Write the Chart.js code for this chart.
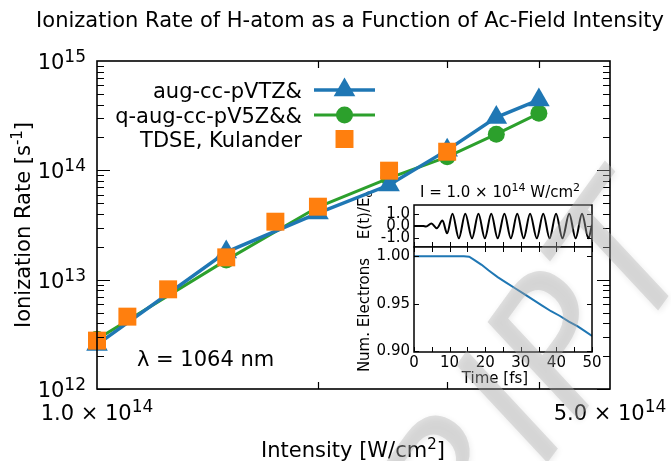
<!DOCTYPE html>
<html>
<head>
<meta charset="utf-8">
<script src="https://cdn.jsdelivr.net/npm/chart.js@4.4.1/dist/chart.umd.min.js"></script>
<style>
  html, body { margin: 0; padding: 0; background: #fff; }
  #wrap { position: relative; width: 671px; height: 461px; overflow: hidden; }
  #wrap canvas { position: absolute; }
</style>
</head>
<body>
<div id="wrap">
  <canvas id="fieldChart" width="265" height="210" style="left:340px;top:180px"></canvas>
  <canvas id="electronChart" width="265" height="210" style="left:340px;top:180px"></canvas>
  <canvas id="rateChart" width="671" height="461" style="left:0;top:0"></canvas>
</div>
<script>
// ionization rates vs. intensity (W/cm^2, s^-1)
const intensity = [1.0e14, 1.5e14, 2.0e14, 2.5e14, 3.0e14, 3.5e14, 4.0e14];
const rateVTZ = [2.55e12, 1.79e13, 4.07e13, 7.34e13, 1.53e14, 3.05e14, 4.40e14];
const rateV5Z = [2.85e12, 1.51e13, 4.62e13, 8.50e13, 1.33e14, 2.14e14, 3.32e14];
const kulanderIntensity = [1.0e14, 1.1e14, 1.25e14, 1.5e14, 1.75e14, 2.0e14, 2.5e14, 3.0e14];
const kulanderRate = [2.77e12, 4.59e12, 8.16e12, 1.60e13, 3.39e13, 4.65e13, 9.93e13, 1.48e14];

const yDecades = [12, 13, 14, 15];
const xTickLabels = [1.0e14, 5.0e14];
const xMinorTicks = [2e14, 3e14, 4e14];

// inset: field turn-on (extrema) and electron count, I = 1e14 W/cm^2
const fieldTime = [0, 2.6, 3.4, 4.9, 6.4, 8.0, 9.3, 10.8, 12.6, 14.4, 16.3, 18.1, 19.9, 21.7, 23.5, 25.4,
  27.2, 29.0, 30.8, 32.6, 34.5, 36.3, 38.1, 39.9, 41.7, 43.6, 45.4, 47.2, 49.0, 50];
const fieldValue = [0, 0, -0.05, 0.2, -0.18, 0.45, -0.6, 1.0, -1.0, 1.0, -1.0, 1.0, -1.0, 1.0, -1.0, 1.0,
  -1.0, 1.0, -1.0, 1.0, -1.0, 1.0, -1.0, 1.0, -1.0, 1.0, -1.0, 1.0, -1.0, 0.1];
const electronTime = [0, 14, 15.5, 17, 19, 21, 23.5, 26, 28.5, 31, 33.5, 36, 38.5, 41, 43.5, 46, 48, 50];
const electronCount = [1.000, 1.000, 0.9995, 0.996, 0.991, 0.985, 0.978, 0.972, 0.966, 0.960, 0.954,
  0.948, 0.942, 0.937, 0.931, 0.926, 0.921, 0.916];

const timeTicks = [0, 5, 10, 15, 20, 25, 30, 35, 40, 45, 50];
const timeLabels = [0, 10, 20, 30, 40, 50];
const fieldTicks = [1.0, 0.0, -1.0];
const fieldTickText = ['1.0', '0.0', '-1.0'];
const electronTicks = [1.00, 0.95, 0.90];
const electronTickText = ['1.00', '0.95', '0.90'];

const FONT = '"DejaVu Sans", sans-serif';
const BLUE = '#1f77b4', GREEN = '#2ca02c', ORANGE = '#ff7f0e';

const pts = (xs, ys) => xs.map((x, i) => ({x: x, y: ys[i]}));

// text with super/subscripts: parts = [text, size, rise]
function rich(ctx, parts, x, y, align) {
  let w = 0;
  parts.forEach(p => { ctx.font = p[1] + 'px ' + FONT; w += ctx.measureText(p[0]).width; });
  let cx = align === 'center' ? x - w / 2 : align === 'right' ? x - w : x;
  ctx.textAlign = 'left';
  parts.forEach(p => {
    ctx.font = p[1] + 'px ' + FONT;
    ctx.fillText(p[0], cx, y - (p[2] || 0));
    cx += ctx.measureText(p[0]).width;
  });
}

// slanted grey stamp across the lower right
function drawStamp(ctx) {
  ctx.save();
  ctx.translate(330, 762);
  ctx.rotate(-54 * Math.PI / 180);
  ctx.font = 'italic 180px ' + FONT;
  ctx.textAlign = 'left';
  ctx.textBaseline = 'alphabetic';
  ctx.shadowColor = 'rgba(0,0,0,0.22)';
  ctx.shadowBlur = 6;
  ctx.shadowOffsetX = 1;
  ctx.shadowOffsetY = 2;
  ctx.fillStyle = 'rgba(175,175,175,0.38)';
  ctx.fillText('SCRIPT', 0, 0);
  ctx.restore();
}

const rateFrame = {
  id: 'rateFrame',
  afterDraw(chart) {
    const {ctx, chartArea: a} = chart;
    const x = chart.scales.x, y = chart.scales.y;
    ctx.save();
    ctx.strokeStyle = '#000';
    ctx.lineWidth = 1.6;
    ctx.strokeRect(a.left, a.top, a.right - a.left, a.bottom - a.top);

    // inward log ticks
    ctx.lineWidth = 1.2;
    ctx.beginPath();
    for (let d = 12; d < 15; d++) {
      for (let k = 1; k < 10; k++) {
        const py = Math.round(y.getPixelForValue(k * Math.pow(10, d))) + 0.5;
        const len = k === 1 ? 13 : 7;
        ctx.moveTo(a.left, py); ctx.lineTo(a.left + len, py);
        ctx.moveTo(a.right, py); ctx.lineTo(a.right - len, py);
      }
    }
    xMinorTicks.forEach(v => {
      const px = Math.round(x.getPixelForValue(v)) + 0.5;
      ctx.moveTo(px, a.bottom); ctx.lineTo(px, a.bottom - 7);
      ctx.moveTo(px, a.top); ctx.lineTo(px, a.top + 7);
    });
    ctx.stroke();

    ctx.fillStyle = '#000';
    ctx.textBaseline = 'alphabetic';
    yDecades.forEach(d => {
      const py = y.getPixelForValue(Math.pow(10, d));
      rich(ctx, [['10', 21, 0], [String(d), 17, 7]], 86, py + 8, 'right');
    });
    xTickLabels.forEach(v => {
      const px = x.getPixelForValue(v);
      const m = (v / 1e14).toFixed(1);
      rich(ctx, [[m + ' \u00d7 10', 21, 0], ['14', 17, 8]], px, 420, 'center');
    });

    // title and axis labels
    rich(ctx, [['Ionization Rate of H-atom as a Function of Ac-Field Intensity', 21, 0]], 350, 27, 'center');
    rich(ctx, [['Intensity [W/cm', 21, 0], ['2', 15, 8], [']', 21, 0]], 353, 457, 'center');
    ctx.save();
    ctx.translate(30, 225);
    ctx.rotate(-Math.PI / 2);
    rich(ctx, [['Ionization Rate [s', 21, 0], ['-1', 15, 8], [']', 21, 0]], 0, 0, 'center');
    ctx.restore();
    rich(ctx, [['\u03bb = 1064 nm', 21, 0]], 137, 366, 'left');

    // legend, labels on the left of the handles
    const rows = [90, 115, 139];
    chart.data.datasets.forEach((ds, i) => {
      const ry = rows[i];
      ctx.fillStyle = '#000';
      rich(ctx, [[ds.label, 21, 0]], 302, ry + 7.5, 'right');
      if (ds.showLine) {
        ctx.strokeStyle = ds.borderColor;
        ctx.lineWidth = ds.borderWidth;
        ctx.beginPath(); ctx.moveTo(314, ry); ctx.lineTo(375, ry); ctx.stroke();
      }
      ctx.fillStyle = ds.backgroundColor;
      ctx.strokeStyle = ds.backgroundColor;
      Chart.helpers.drawPoint(ctx, {pointStyle: ds.pointStyle, radius: ds.pointRadius, borderWidth: 0, rotation: 0}, 344.5, ry);
    });

    drawStamp(ctx);
    ctx.restore();
  }
};

new Chart(document.getElementById('rateChart'), {
  type: 'scatter',
  data: {
    datasets: [
      {label: 'aug-cc-pVTZ&', data: pts(intensity, rateVTZ), showLine: true, borderColor: BLUE,
        backgroundColor: BLUE, borderWidth: 3.5, pointStyle: 'triangle', pointRadius: 12.5,
        pointBorderWidth: 0, order: 2, clip: false},
      {label: 'q-aug-cc-pV5Z&&', data: pts(intensity, rateV5Z), showLine: true, borderColor: GREEN,
        backgroundColor: GREEN, borderWidth: 3, pointStyle: 'circle', pointRadius: 8.5,
        pointBorderWidth: 0, order: 3, clip: false},
      {label: 'TDSE, Kulander', data: pts(kulanderIntensity, kulanderRate), showLine: false,
        backgroundColor: ORANGE, borderColor: ORANGE, pointStyle: 'rect', pointRadius: 12.7,
        pointBorderWidth: 0, order: 1, clip: false}
    ]
  },
  options: {
    responsive: false,
    animation: false,
    layout: {padding: {left: 97, right: 61, top: 61, bottom: 72}},
    plugins: {legend: {display: false}, tooltip: {enabled: false}},
    scales: {
      x: {type: 'logarithmic', min: 1e14, max: 5e14, display: false},
      y: {type: 'logarithmic', min: 1e12, max: 1e15, display: false}
    }
  },
  plugins: [rateFrame]
});

function insetFrame(id, opt) {
  return {
    id: id,
    beforeDraw(chart) {
      const {ctx, chartArea: a} = chart;
      ctx.save();
      ctx.fillStyle = '#fff';
      ctx.fillRect(a.left, a.top, a.right - a.left, a.bottom - a.top);
      ctx.restore();
    },
    afterDraw(chart) {
      const {ctx, chartArea: a} = chart;
      const x = chart.scales.x, y = chart.scales.y;
      ctx.save();
      ctx.strokeStyle = '#000';
      ctx.lineWidth = 1.5;
      ctx.strokeRect(a.left, a.top, a.right - a.left, a.bottom - a.top);
      ctx.lineWidth = 1;
      ctx.beginPath();
      timeTicks.forEach(t => {
        const px = Math.round(x.getPixelForValue(t)) + 0.5;
        if (opt.bottom) { ctx.moveTo(px, a.bottom); ctx.lineTo(px, a.bottom - 5); }
        if (opt.top) { ctx.moveTo(px, a.top); ctx.lineTo(px, a.top + 5); }
      });
      opt.yTicks.forEach(v => {
        const py = Math.round(y.getPixelForValue(v)) + 0.5;
        ctx.moveTo(a.left, py); ctx.lineTo(a.left + 5, py);
        ctx.moveTo(a.right, py); ctx.lineTo(a.right - 5, py);
      });
      ctx.stroke();

      ctx.fillStyle = '#000';
      ctx.textBaseline = 'middle';
      opt.yTicks.forEach((v, i) => {
        rich(ctx, [[opt.yText[i], 15, 0]], a.left - 4, y.getPixelForValue(v), 'right');
      });
      if (opt.xLabels) {
        timeLabels.forEach(t => rich(ctx, [[String(t), 15, 0]], x.getPixelForValue(t), a.bottom + 11, 'center'));
        rich(ctx, [['Time [fs]', 15, 0]], 155, 199, 'center');
      }
      if (opt.heading) {
        ctx.textBaseline = 'alphabetic';
        rich(ctx, [['I = 1.0 \u00d7 10', 15, 0], ['14', 11, 6], [' W/cm', 15, 0], ['2', 11, 6]], 160, 16.5, 'center');
      }
      ctx.save();
      ctx.translate(25, opt.labelY);
      ctx.rotate(-Math.PI / 2);
      ctx.textBaseline = 'middle';
      rich(ctx, opt.yTitle, 0, 0, 'center');
      ctx.restore();
      ctx.restore();
    }
  };
}

new Chart(document.getElementById('fieldChart'), {
  type: 'scatter',
  data: {
    datasets: [{data: pts(fieldTime, fieldValue), showLine: true, borderColor: '#000', borderWidth: 2,
      pointRadius: 0, cubicInterpolationMode: 'monotone'}]
  },
  options: {
    responsive: false,
    animation: false,
    layout: {padding: {left: 74, right: 13, top: 25, bottom: 143}},
    plugins: {legend: {display: false}, tooltip: {enabled: false}},
    scales: {
      x: {type: 'linear', min: 0, max: 50, display: false},
      y: {type: 'linear', min: -1.71, max: 1.71, display: false}
    }
  },
  plugins: [insetFrame('fieldFrame', {bottom: true, top: false, yTicks: fieldTicks, yText: fieldTickText,
    heading: true, labelY: 35, yTitle: [['E(t)/E', 15, 0], ['o', 11, -4]]})]
});

new Chart(document.getElementById('electronChart'), {
  type: 'scatter',
  data: {
    datasets: [{data: pts(electronTime, electronCount), showLine: true, borderColor: BLUE, borderWidth: 2,
      pointRadius: 0}]
  },
  options: {
    responsive: false,
    animation: false,
    layout: {padding: {left: 74, right: 13, top: 67, bottom: 38}},
    plugins: {legend: {display: false}, tooltip: {enabled: false}},
    scales: {
      x: {type: 'linear', min: 0, max: 50, display: false},
      y: {type: 'linear', min: 0.899, max: 1.0098, display: false}
    }
  },
  plugins: [insetFrame('electronFrame', {bottom: true, top: true, yTicks: electronTicks, yText: electronTickText,
    xLabels: true, labelY: 135, yTitle: [['Num. Electrons', 15, 0]]})]
});
</script>
</body>
</html>
